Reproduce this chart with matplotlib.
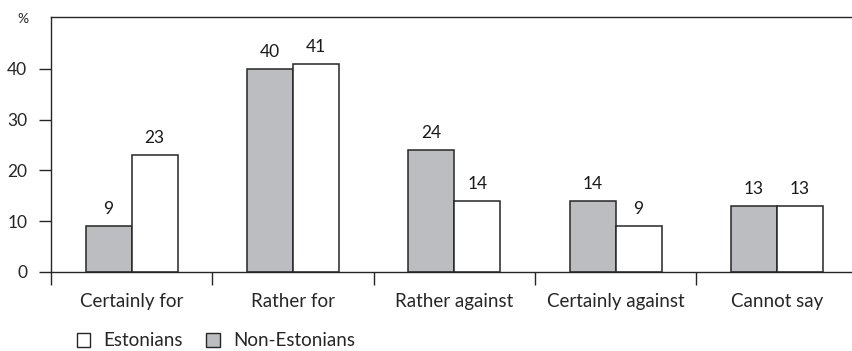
import numpy as np
import matplotlib.pyplot as plt
from matplotlib.patches import Patch

plt.rcParams['font.family'] = ['Lato', 'DejaVu Sans']

#### DATA ####
categories = ['Certainly for', 'Rather for', 'Rather against', 'Certainly against', 'Cannot say']
non_estonians = [9, 40, 24, 14, 13]
estonians = [23, 41, 14, 9, 13]
yticks = [0, 10, 20, 30, 40]

#### STYLE ####
ink = '#262626'
grey = '#bcbdc1'
width = 0.285

fig = plt.figure(figsize=(8.52, 3.51), dpi=100)
ax = fig.add_axes([51/852, 1-272/351, 1-51/852, (272-17)/351])

x = np.arange(len(categories)) + 0.5
b1 = ax.bar(x - width/2, non_estonians, width, color=grey, edgecolor=ink, linewidth=1.1)
b2 = ax.bar(x + width/2, estonians, width, color='white', edgecolor=ink, linewidth=1.1)

for bars, vals in [(b1, non_estonians), (b2, estonians)]:
    for bar, v in zip(bars, vals):
        ax.text(bar.get_x() + bar.get_width()/2, v + 1.8, str(v), ha='center', va='bottom',
                fontsize=12.5, color='#1a1a1a')

ax.set_xlim(0, (852-51)/161.3)
ax.set_ylim(0, 50.2)

# category boundaries as major ticks, names on minor ticks
ax.set_xticks(np.arange(len(categories)))
ax.set_xticklabels([])
ax.set_xticks(x, minor=True)
ax.set_xticklabels(categories, minor=True, fontsize=13.5, color=ink)
ax.tick_params(axis='x', which='major', length=9.5, width=1, color=ink, direction='out')
ax.tick_params(axis='x', which='minor', length=0, pad=15)

ax.set_yticks(yticks)
ax.set_yticklabels([str(t) for t in yticks], fontsize=12.5, color=ink)
ax.tick_params(axis='y', length=9, width=1, color=ink, pad=8)

for s in ['left', 'top', 'bottom']:
    ax.spines[s].set_color(ink)
    ax.spines[s].set_linewidth(1)
ax.spines['right'].set_visible(False)

fig.text(17/852, 1-19/351, '%', fontsize=10, color=ink, va='center')

handles = [Patch(facecolor='white', edgecolor=ink, linewidth=1),
           Patch(facecolor=grey, edgecolor=ink, linewidth=1)]
fig.legend(handles, ['Estonians', 'Non-Estonians'], loc='center left',
           bbox_to_anchor=(60/852, 1-341/351), ncol=2, frameon=False,
           handlelength=0.72, handleheight=0.72, handletextpad=0.7, columnspacing=1.25,
           prop={'size': 13.5}, labelcolor=ink)

fig.savefig('out.png', dpi=100)
